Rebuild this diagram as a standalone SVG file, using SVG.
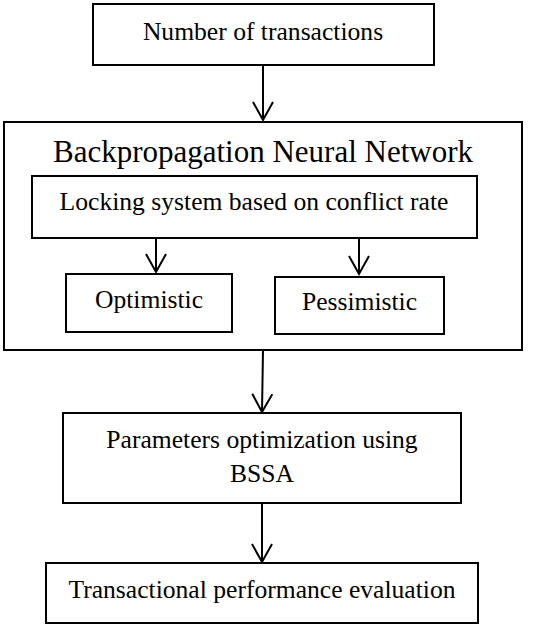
<svg xmlns="http://www.w3.org/2000/svg" width="540" height="624" viewBox="0 0 540 624">
<style>
.box{fill:#fff;stroke:#000;stroke-width:2}
.t{font-family:"Liberation Serif","Times New Roman",serif;font-size:25.6px;fill:#000;text-anchor:middle}
.title{font-size:31px}
.c{stroke:#000;stroke-width:2;fill:none}
</style>
<defs>
<marker id="arr" markerWidth="22" markerHeight="24" refX="19" refY="11" orient="auto" markerUnits="userSpaceOnUse" viewBox="0 0 22 24">
<path d="M1,1 L19,11 L1,21" fill="none" stroke="#000" stroke-width="2"/>
</marker>
</defs>
<rect width="540" height="624" fill="#fff"/>
<g id="n-transactions">
<rect class="box" x="93" y="4" width="341" height="61"/>
<text class="t" x="263" y="40">Number of transactions</text>
</g>
<g id="n-bpnn">
<rect class="box" x="4" y="122" width="518" height="228"/>
<text class="t title" x="263" y="162">Backpropagation Neural Network</text>
</g>
<g id="n-locking">
<rect class="box" x="32" y="176" width="445" height="62"/>
<text class="t" x="254" y="210">Locking system based on conflict rate</text>
</g>
<g id="n-optimistic">
<rect class="box" x="66" y="274" width="166" height="58"/>
<text class="t" x="149" y="308">Optimistic</text>
</g>
<g id="n-pessimistic">
<rect class="box" x="275" y="277" width="169" height="57"/>
<text class="t" x="359.5" y="310">Pessimistic</text>
</g>
<g id="n-params">
<rect class="box" x="63" y="413" width="398" height="90"/>
<text class="t" x="262" y="448">Parameters optimization using</text>
<text class="t" x="262" y="482">BSSA</text>
</g>
<g id="n-eval">
<rect class="box" x="46" y="563" width="432" height="60"/>
<text class="t" x="262" y="598">Transactional performance evaluation</text>
</g>
<g id="connectors">
<line class="c" x1="263" y1="65" x2="263" y2="120" marker-end="url(#arr)"/>
<line class="c" x1="156" y1="238" x2="156" y2="272" marker-end="url(#arr)"/>
<line class="c" x1="359" y1="238" x2="359" y2="274" marker-end="url(#arr)"/>
<line class="c" x1="263" y1="350" x2="262" y2="412" marker-end="url(#arr)"/>
<line class="c" x1="262" y1="503" x2="262" y2="562" marker-end="url(#arr)"/>
</g>
</svg>
